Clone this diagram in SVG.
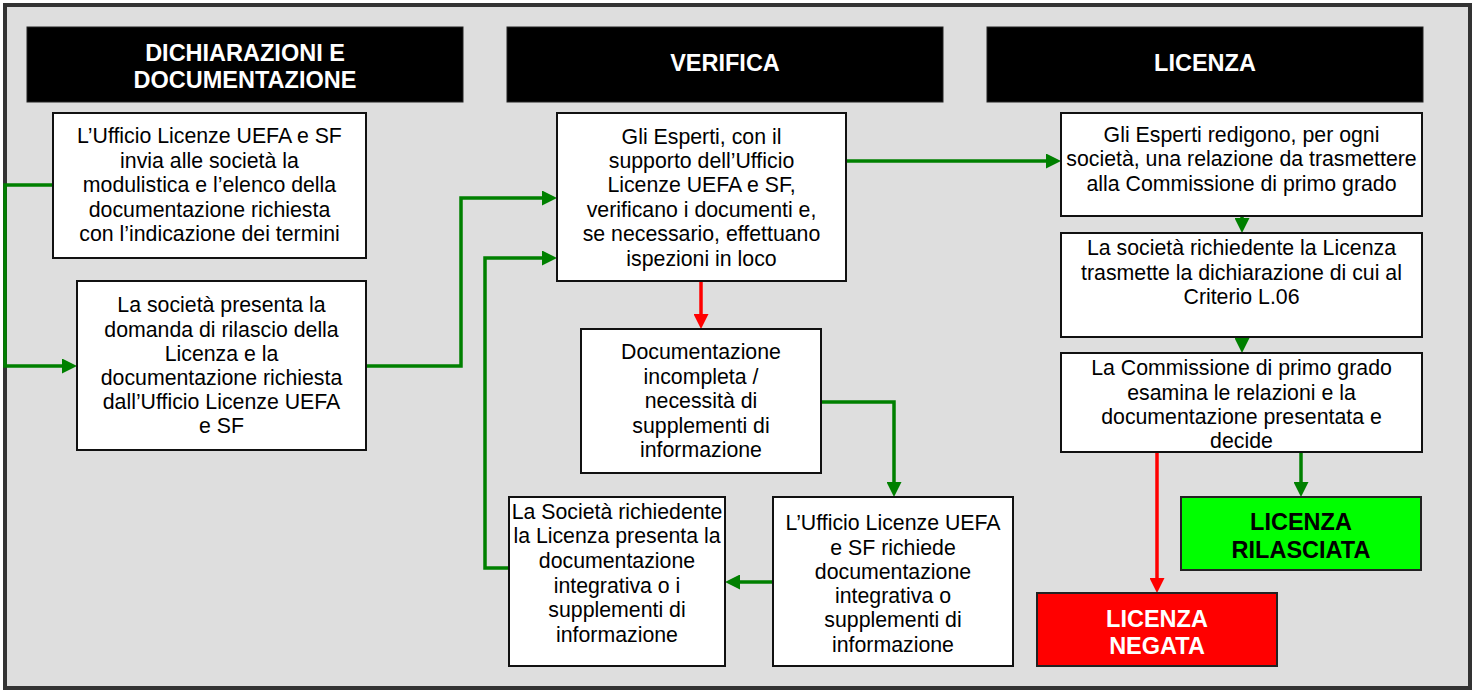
<svg xmlns="http://www.w3.org/2000/svg" width="1479" height="690" viewBox="0 0 1479 690">
<style>
.hdr{fill:#000;stroke:#222;stroke-width:1}
.box{fill:#fff;stroke:#111;stroke-width:2}
.ht{font-family:"Liberation Sans",Arial,sans-serif;font-size:23.5px;font-weight:bold;fill:#fff;text-anchor:middle}
.t{font-family:"Liberation Sans",Arial,sans-serif;font-size:21.3px;fill:#000;text-anchor:middle}
.bt{font-family:"Liberation Sans",Arial,sans-serif;font-size:23.5px;font-weight:bold;text-anchor:middle}
.g{fill:none;stroke:#008000;stroke-width:3.5}
.r{fill:none;stroke:#ff0000;stroke-width:3.5}
</style>
<defs>
<marker id="ag" markerUnits="userSpaceOnUse" markerWidth="15" markerHeight="15" refX="5" refY="7.5" orient="auto" viewBox="0 0 15 15"><path d="M0,0 L15,7.5 L0,15 z" fill="#008000"/></marker>
<marker id="ar" markerUnits="userSpaceOnUse" markerWidth="15" markerHeight="15" refX="5" refY="7.5" orient="auto" viewBox="0 0 15 15"><path d="M0,0 L15,7.5 L0,15 z" fill="#ff0000"/></marker>
</defs>
<rect x="5" y="5" width="1465" height="683" fill="#dedede" stroke="#333" stroke-width="4"/>

<g id="h1"><rect class="hdr" x="27" y="27" width="436" height="75"/><text class="ht" x="245" y="61">DICHIARAZIONI E</text><text class="ht" x="245" y="88">DOCUMENTAZIONE</text></g>
<g id="h2"><rect class="hdr" x="507" y="27" width="436" height="75"/><text class="ht" x="725" y="71">VERIFICA</text></g>
<g id="h3"><rect class="hdr" x="987" y="27" width="436" height="75"/><text class="ht" x="1205" y="71">LICENZA</text></g>

<g id="connectors">
<polyline class="g" points="53,185 5,185 5,366 67,366" marker-end="url(#ag)"/>
<polyline class="g" points="366,366 461,366 461,198 547,198" marker-end="url(#ag)"/>
<polyline class="g" points="509,568 485,568 485,258 547,258" marker-end="url(#ag)"/>
<polyline class="g" points="846,161 1051,161" marker-end="url(#ag)"/>
<polyline class="r" points="701,281 701,319" marker-end="url(#ar)"/>
<polyline class="g" points="821,402 894,402 894,487" marker-end="url(#ag)"/>
<polyline class="g" points="773,582 735,582" marker-end="url(#ag)"/>
<polyline class="g" points="1242,216 1242,223" marker-end="url(#ag)"/>
<polyline class="g" points="1242,337 1242,343" marker-end="url(#ag)"/>
<polyline class="r" points="1157,452 1157,583" marker-end="url(#ar)"/>
<polyline class="g" points="1301,452 1301,487" marker-end="url(#ag)"/>
</g>

<g id="n1"><rect class="box" x="53" y="113" width="313" height="145"/>
<text class="t" x="209.5" y="143">L’Ufficio Licenze UEFA e SF</text>
<text class="t" x="209.5" y="168">invia alle società la</text>
<text class="t" x="209.5" y="192">modulistica e l’elenco della</text>
<text class="t" x="209.5" y="217">documentazione richiesta</text>
<text class="t" x="209.5" y="241">con l’indicazione dei termini</text></g>

<g id="n2"><rect class="box" x="77" y="281" width="289" height="169"/>
<text class="t" x="221.5" y="312">La società presenta la</text>
<text class="t" x="221.5" y="337">domanda di rilascio della</text>
<text class="t" x="221.5" y="361">Licenza e la</text>
<text class="t" x="221.5" y="385">documentazione richiesta</text>
<text class="t" x="221.5" y="409">dall’Ufficio Licenze UEFA</text>
<text class="t" x="221.5" y="433">e SF</text></g>

<g id="n3"><rect class="box" x="557" y="113" width="289" height="168"/>
<text class="t" x="701.5" y="144">Gli Esperti, con il</text>
<text class="t" x="701.5" y="168">supporto dell’Ufficio</text>
<text class="t" x="701.5" y="192">Licenze UEFA e SF,</text>
<text class="t" x="701.5" y="217">verificano i documenti e,</text>
<text class="t" x="701.5" y="241">se necessario, effettuano</text>
<text class="t" x="701.5" y="266">ispezioni in loco</text></g>

<g id="n4"><rect class="box" x="581" y="329" width="240" height="144"/>
<text class="t" x="701" y="359">Documentazione</text>
<text class="t" x="701" y="384">incompleta /</text>
<text class="t" x="701" y="408">necessità di</text>
<text class="t" x="701" y="433">supplementi di</text>
<text class="t" x="701" y="457">informazione</text></g>

<g id="n5"><rect class="box" x="773" y="497" width="240" height="169"/>
<text class="t" x="893" y="530">L’Ufficio Licenze UEFA</text>
<text class="t" x="893" y="555">e SF richiede</text>
<text class="t" x="893" y="579">documentazione</text>
<text class="t" x="893" y="603">integrativa o</text>
<text class="t" x="893" y="627">supplementi di</text>
<text class="t" x="893" y="652">informazione</text></g>

<g id="n6"><rect class="box" x="509" y="497" width="216" height="169"/>
<text class="t" x="617" y="519">La Società richiedente</text>
<text class="t" x="617" y="543">la Licenza presenta la</text>
<text class="t" x="617" y="568">documentazione</text>
<text class="t" x="617" y="593">integrativa o i</text>
<text class="t" x="617" y="617">supplementi di</text>
<text class="t" x="617" y="642">informazione</text></g>

<g id="n7"><rect class="box" x="1061" y="113" width="361" height="103"/>
<text class="t" x="1241.5" y="142">Gli Esperti redigono, per ogni</text>
<text class="t" x="1241.5" y="166">società, una relazione da trasmettere</text>
<text class="t" x="1241.5" y="191">alla Commissione di primo grado</text></g>

<g id="n8"><rect class="box" x="1061" y="233" width="361" height="104"/>
<text class="t" x="1241.5" y="255">La società richiedente la Licenza</text>
<text class="t" x="1241.5" y="280">trasmette la dichiarazione di cui al</text>
<text class="t" x="1241.5" y="304">Criterio L.06</text></g>

<g id="n9"><rect class="box" x="1061" y="353" width="361" height="99"/>
<text class="t" x="1241.5" y="375">La Commissione di primo grado</text>
<text class="t" x="1241.5" y="400">esamina le relazioni e la</text>
<text class="t" x="1241.5" y="424">documentazione presentata e</text>
<text class="t" x="1241.5" y="448">decide</text></g>

<g id="n10"><rect x="1181" y="497" width="240" height="73" fill="#00ff00" stroke="#222" stroke-width="2"/>
<text class="bt" x="1301" y="530" fill="#000">LICENZA</text>
<text class="bt" x="1301" y="558" fill="#000">RILASCIATA</text></g>

<g id="n11"><rect x="1037" y="593" width="240" height="73" fill="#ff0000" stroke="#222" stroke-width="2"/>
<text class="bt" x="1157" y="627" fill="#fff">LICENZA</text>
<text class="bt" x="1157" y="654" fill="#fff">NEGATA</text></g>
</svg>
